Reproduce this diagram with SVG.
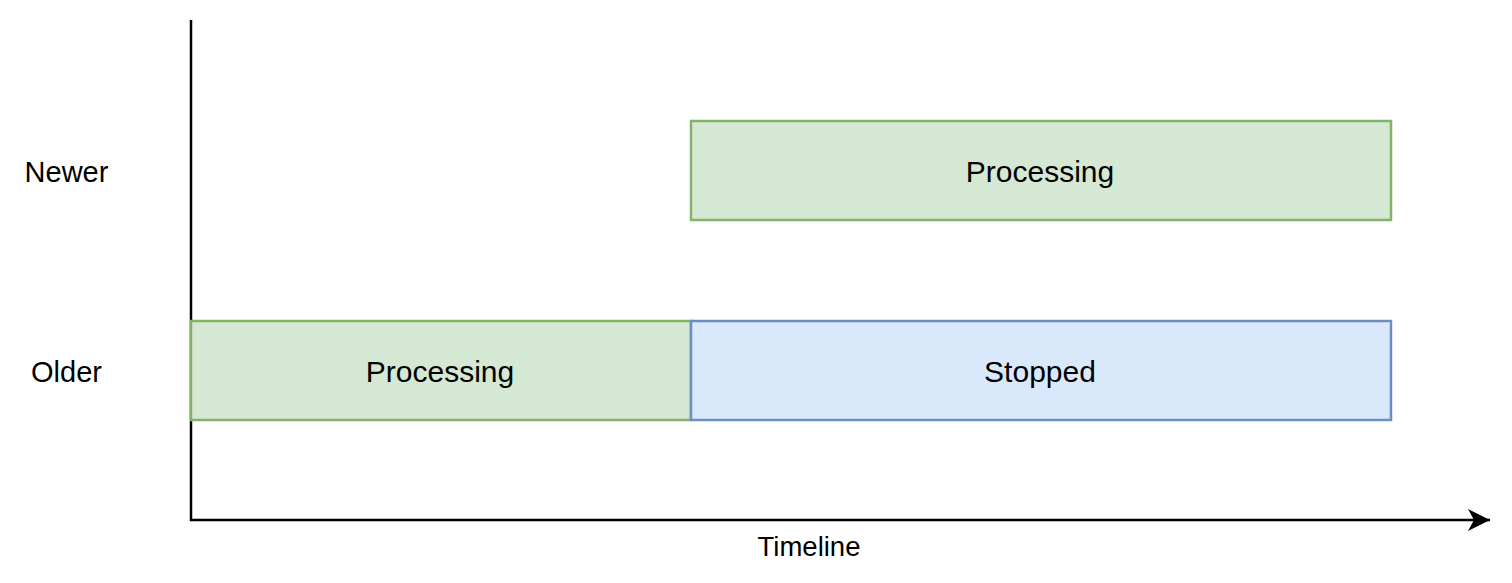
<svg xmlns="http://www.w3.org/2000/svg" width="1512" height="583" viewBox="0 0 1512 583">
<style>
text{font-family:"Liberation Sans",Arial,sans-serif;fill:#000;text-anchor:middle}
.lbl{font-size:29px}
.box{font-size:30px}
.green{fill:#d5e8d4;stroke:#82b366;stroke-width:2.5}
.blue{fill:#dae8fc;stroke:#6c8ebf;stroke-width:2.5}
.axis{stroke:#000;stroke-width:2.5;fill:none}
</style>
<defs>
<marker id="arr" markerUnits="userSpaceOnUse" markerWidth="30" markerHeight="30" refX="22" refY="11" orient="auto" viewBox="0 0 30 22">
<path d="M0,0 L22,11 L0,22 L6,11 Z" fill="#000"/>
</marker>
</defs>
<g id="connectors">
<line class="axis" x1="191" y1="20" x2="191" y2="521"/>
<line class="axis" x1="190" y1="520" x2="1490" y2="520" marker-end="url(#arr)"/>
</g>
<g id="label-newer"><text class="lbl" x="66.5" y="182">Newer</text></g>
<g id="label-older"><text class="lbl" x="66.5" y="382">Older</text></g>
<g id="label-timeline"><text x="809" y="556" style="font-size:27.5px">Timeline</text></g>
<g id="newer-processing">
<rect class="green" x="691" y="121" width="700" height="99"/>
<text class="box" x="1040" y="182">Processing</text>
</g>
<g id="older-processing">
<rect class="green" x="191" y="321" width="500" height="99"/>
<text class="box" x="440" y="382">Processing</text>
</g>
<g id="older-stopped">
<rect class="blue" x="691" y="321" width="700" height="99"/>
<text class="box" x="1040" y="382">Stopped</text>
</g>
</svg>
